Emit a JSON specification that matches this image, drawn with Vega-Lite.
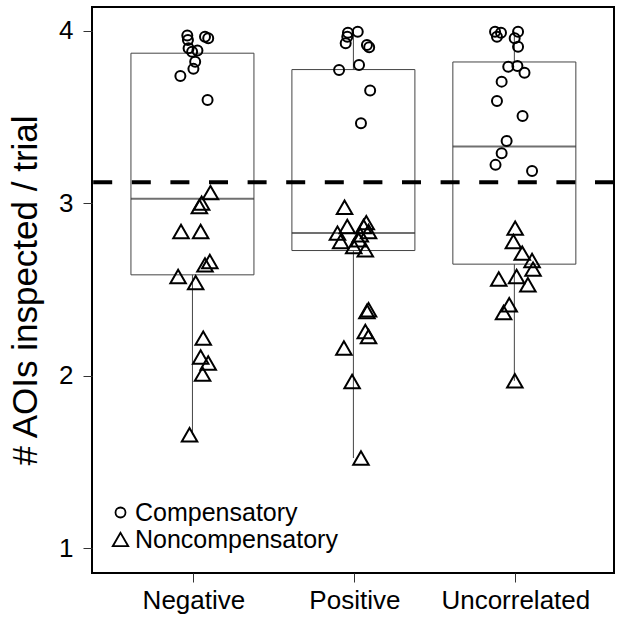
{
  "$schema": "https://vega.github.io/schema/vega-lite/v6.json",
  "width": 522,
  "height": 566,
  "autosize": {"type": "none"},
  "padding": {"left": 92, "top": 7, "right": 3, "bottom": 44},
  "background": "white",
  "config": {
    "font": "Liberation Sans",
    "view": {"stroke": "black", "strokeWidth": 2},
    "axis": {"grid": false, "domain": false, "tickColor": "#333", "tickSize": 9, "tickWidth": 1, "labelColor": "black", "titleColor": "black", "labelFont": "Liberation Sans", "titleFont": "Liberation Sans", "titleFontWeight": "normal"}
  },
  "datasets": {
    "points": [
      {"x": 0.962, "y": 3.973, "type": "Compensatory"},
      {"x": 1.072, "y": 3.967, "type": "Compensatory"},
      {"x": 1.092, "y": 3.958, "type": "Compensatory"},
      {"x": 0.966, "y": 3.948, "type": "Compensatory"},
      {"x": 0.970, "y": 3.900, "type": "Compensatory"},
      {"x": 1.025, "y": 3.886, "type": "Compensatory"},
      {"x": 0.992, "y": 3.880, "type": "Compensatory"},
      {"x": 1.011, "y": 3.822, "type": "Compensatory"},
      {"x": 1.000, "y": 3.780, "type": "Compensatory"},
      {"x": 0.919, "y": 3.739, "type": "Compensatory"},
      {"x": 1.088, "y": 3.600, "type": "Compensatory"},
      {"x": 1.106, "y": 3.062, "type": "Noncompensatory"},
      {"x": 1.051, "y": 3.001, "type": "Noncompensatory"},
      {"x": 1.037, "y": 2.981, "type": "Noncompensatory"},
      {"x": 0.923, "y": 2.836, "type": "Noncompensatory"},
      {"x": 1.045, "y": 2.836, "type": "Noncompensatory"},
      {"x": 1.102, "y": 2.662, "type": "Noncompensatory"},
      {"x": 1.072, "y": 2.643, "type": "Noncompensatory"},
      {"x": 0.905, "y": 2.575, "type": "Noncompensatory"},
      {"x": 1.014, "y": 2.540, "type": "Noncompensatory"},
      {"x": 1.061, "y": 2.218, "type": "Noncompensatory"},
      {"x": 1.045, "y": 2.108, "type": "Noncompensatory"},
      {"x": 1.092, "y": 2.073, "type": "Noncompensatory"},
      {"x": 1.057, "y": 2.009, "type": "Noncompensatory"},
      {"x": 0.976, "y": 1.657, "type": "Noncompensatory"},
      {"x": 1.960, "y": 3.990, "type": "Compensatory"},
      {"x": 2.021, "y": 3.996, "type": "Compensatory"},
      {"x": 1.956, "y": 3.967, "type": "Compensatory"},
      {"x": 1.946, "y": 3.929, "type": "Compensatory"},
      {"x": 2.078, "y": 3.919, "type": "Compensatory"},
      {"x": 2.092, "y": 3.905, "type": "Compensatory"},
      {"x": 2.029, "y": 3.803, "type": "Compensatory"},
      {"x": 1.905, "y": 3.774, "type": "Compensatory"},
      {"x": 2.098, "y": 3.654, "type": "Compensatory"},
      {"x": 2.041, "y": 3.465, "type": "Compensatory"},
      {"x": 1.939, "y": 2.977, "type": "Noncompensatory"},
      {"x": 1.956, "y": 2.865, "type": "Noncompensatory"},
      {"x": 2.074, "y": 2.888, "type": "Noncompensatory"},
      {"x": 2.057, "y": 2.865, "type": "Noncompensatory"},
      {"x": 1.895, "y": 2.827, "type": "Noncompensatory"},
      {"x": 2.088, "y": 2.836, "type": "Noncompensatory"},
      {"x": 2.037, "y": 2.817, "type": "Noncompensatory"},
      {"x": 1.915, "y": 2.778, "type": "Noncompensatory"},
      {"x": 2.027, "y": 2.788, "type": "Noncompensatory"},
      {"x": 1.996, "y": 2.749, "type": "Noncompensatory"},
      {"x": 2.068, "y": 2.730, "type": "Noncompensatory"},
      {"x": 2.088, "y": 2.382, "type": "Noncompensatory"},
      {"x": 2.078, "y": 2.372, "type": "Noncompensatory"},
      {"x": 2.068, "y": 2.256, "type": "Noncompensatory"},
      {"x": 2.088, "y": 2.227, "type": "Noncompensatory"},
      {"x": 1.935, "y": 2.160, "type": "Noncompensatory"},
      {"x": 1.986, "y": 1.966, "type": "Noncompensatory"},
      {"x": 2.041, "y": 1.522, "type": "Noncompensatory"},
      {"x": 2.874, "y": 3.996, "type": "Compensatory"},
      {"x": 2.911, "y": 3.990, "type": "Compensatory"},
      {"x": 2.886, "y": 3.967, "type": "Compensatory"},
      {"x": 3.017, "y": 3.996, "type": "Compensatory"},
      {"x": 2.996, "y": 3.958, "type": "Compensatory"},
      {"x": 3.017, "y": 3.909, "type": "Compensatory"},
      {"x": 2.956, "y": 3.793, "type": "Compensatory"},
      {"x": 3.013, "y": 3.797, "type": "Compensatory"},
      {"x": 3.057, "y": 3.758, "type": "Compensatory"},
      {"x": 2.915, "y": 3.706, "type": "Compensatory"},
      {"x": 2.886, "y": 3.594, "type": "Compensatory"},
      {"x": 3.045, "y": 3.507, "type": "Compensatory"},
      {"x": 2.946, "y": 3.362, "type": "Compensatory"},
      {"x": 2.915, "y": 3.291, "type": "Compensatory"},
      {"x": 2.877, "y": 3.223, "type": "Compensatory"},
      {"x": 3.104, "y": 3.188, "type": "Compensatory"},
      {"x": 2.999, "y": 2.856, "type": "Noncompensatory"},
      {"x": 2.988, "y": 2.778, "type": "Noncompensatory"},
      {"x": 3.043, "y": 2.711, "type": "Noncompensatory"},
      {"x": 3.104, "y": 2.668, "type": "Noncompensatory"},
      {"x": 3.110, "y": 2.618, "type": "Noncompensatory"},
      {"x": 3.008, "y": 2.575, "type": "Noncompensatory"},
      {"x": 2.897, "y": 2.561, "type": "Noncompensatory"},
      {"x": 3.078, "y": 2.527, "type": "Noncompensatory"},
      {"x": 2.962, "y": 2.411, "type": "Noncompensatory"},
      {"x": 2.927, "y": 2.366, "type": "Noncompensatory"},
      {"x": 2.997, "y": 1.970, "type": "Noncompensatory"}
    ],
    "boxes": [
      {"c": 0.994, "lo": 1.657, "q1": 2.585, "med": 3.027, "q3": 3.871, "hi": 3.973},
      {"c": 1.994, "lo": 1.522, "q1": 2.726, "med": 2.827, "q3": 3.776, "hi": 3.996},
      {"c": 2.994, "lo": 1.970, "q1": 2.647, "med": 3.329, "q3": 3.820, "hi": 3.996}
    ],
    "ref": [{"y": 3.122}]
  },
  "layer": [
    {
      "data": {"name": "boxes"},
      "mark": {"type": "rule", "color": "#444", "strokeWidth": 1},
      "encoding": {
        "x": {"field": "c", "type": "quantitative", "scale": {"domain": [0.401, 3.582], "nice": false, "zero": false},
          "axis": {"values": [1, 2, 3], "labelExpr": "datum.value == 1 ? 'Negative' : datum.value == 2 ? 'Positive' : 'Uncorrelated'", "labelFontSize": 26, "labelPadding": 5, "title": null}},
        "y": {"field": "lo", "type": "quantitative", "scale": {"domain": [0.855, 4.139], "nice": false, "zero": false},
          "axis": {"values": [1, 2, 3, 4], "format": "d", "labelFontSize": 26, "labelPadding": 10, "title": "# AOIs inspected / trial", "titleFontSize": 35, "titlePadding": 15}},
        "y2": {"field": "q1"}
      }
    },
    {
      "data": {"name": "boxes"},
      "mark": {"type": "rule", "color": "#444", "strokeWidth": 1},
      "encoding": {
        "x": {"field": "c", "type": "quantitative"},
        "y": {"field": "q3", "type": "quantitative"},
        "y2": {"field": "hi"}
      }
    },
    {
      "data": {"name": "boxes"},
      "mark": {"type": "bar", "width": 123, "fill": "transparent", "stroke": "#444", "strokeWidth": 1},
      "encoding": {
        "x": {"field": "c", "type": "quantitative"},
        "y": {"field": "q1", "type": "quantitative"},
        "y2": {"field": "q3"}
      }
    },
    {
      "data": {"name": "boxes"},
      "mark": {"type": "tick", "orient": "horizontal", "size": 123, "thickness": 2, "color": "#333"},
      "encoding": {
        "x": {"field": "c", "type": "quantitative"},
        "y": {"field": "med", "type": "quantitative"}
      }
    },
    {
      "data": {"name": "ref"},
      "mark": {"type": "rule", "color": "black", "strokeWidth": 4, "strokeDash": [19, 19.6]},
      "encoding": {
        "y": {"field": "y", "type": "quantitative"}
      }
    },
    {
      "data": {"name": "points"},
      "mark": {"type": "point", "filled": false, "color": "black", "strokeWidth": 2, "opacity": 1},
      "encoding": {
        "x": {"field": "x", "type": "quantitative"},
        "y": {"field": "y", "type": "quantitative"},
        "shape": {"field": "type", "type": "nominal", "scale": {"domain": ["Compensatory", "Noncompensatory"], "range": ["circle", "triangle-up"]},
          "legend": {"title": null, "orient": "none", "legendX": 16, "legendY": 493, "labelFontSize": 25, "labelLimit": 400, "labelOffset": 2, "padding": 0, "rowPadding": 1, "symbolStrokeWidth": 1.8, "symbolStrokeColor": "black", "symbolFillColor": "transparent", "labelColor": "black"}},
        "size": {"field": "type", "type": "nominal", "scale": {"domain": ["Compensatory", "Noncompensatory"], "range": [100, 240]},
          "legend": {"title": null, "orient": "none", "legendX": 16, "legendY": 493, "labelFontSize": 25, "labelLimit": 400, "labelOffset": 2, "padding": 0, "rowPadding": 1, "symbolStrokeWidth": 1.8, "symbolStrokeColor": "black", "symbolFillColor": "transparent", "labelColor": "black"}}
      }
    }
  ]
}
